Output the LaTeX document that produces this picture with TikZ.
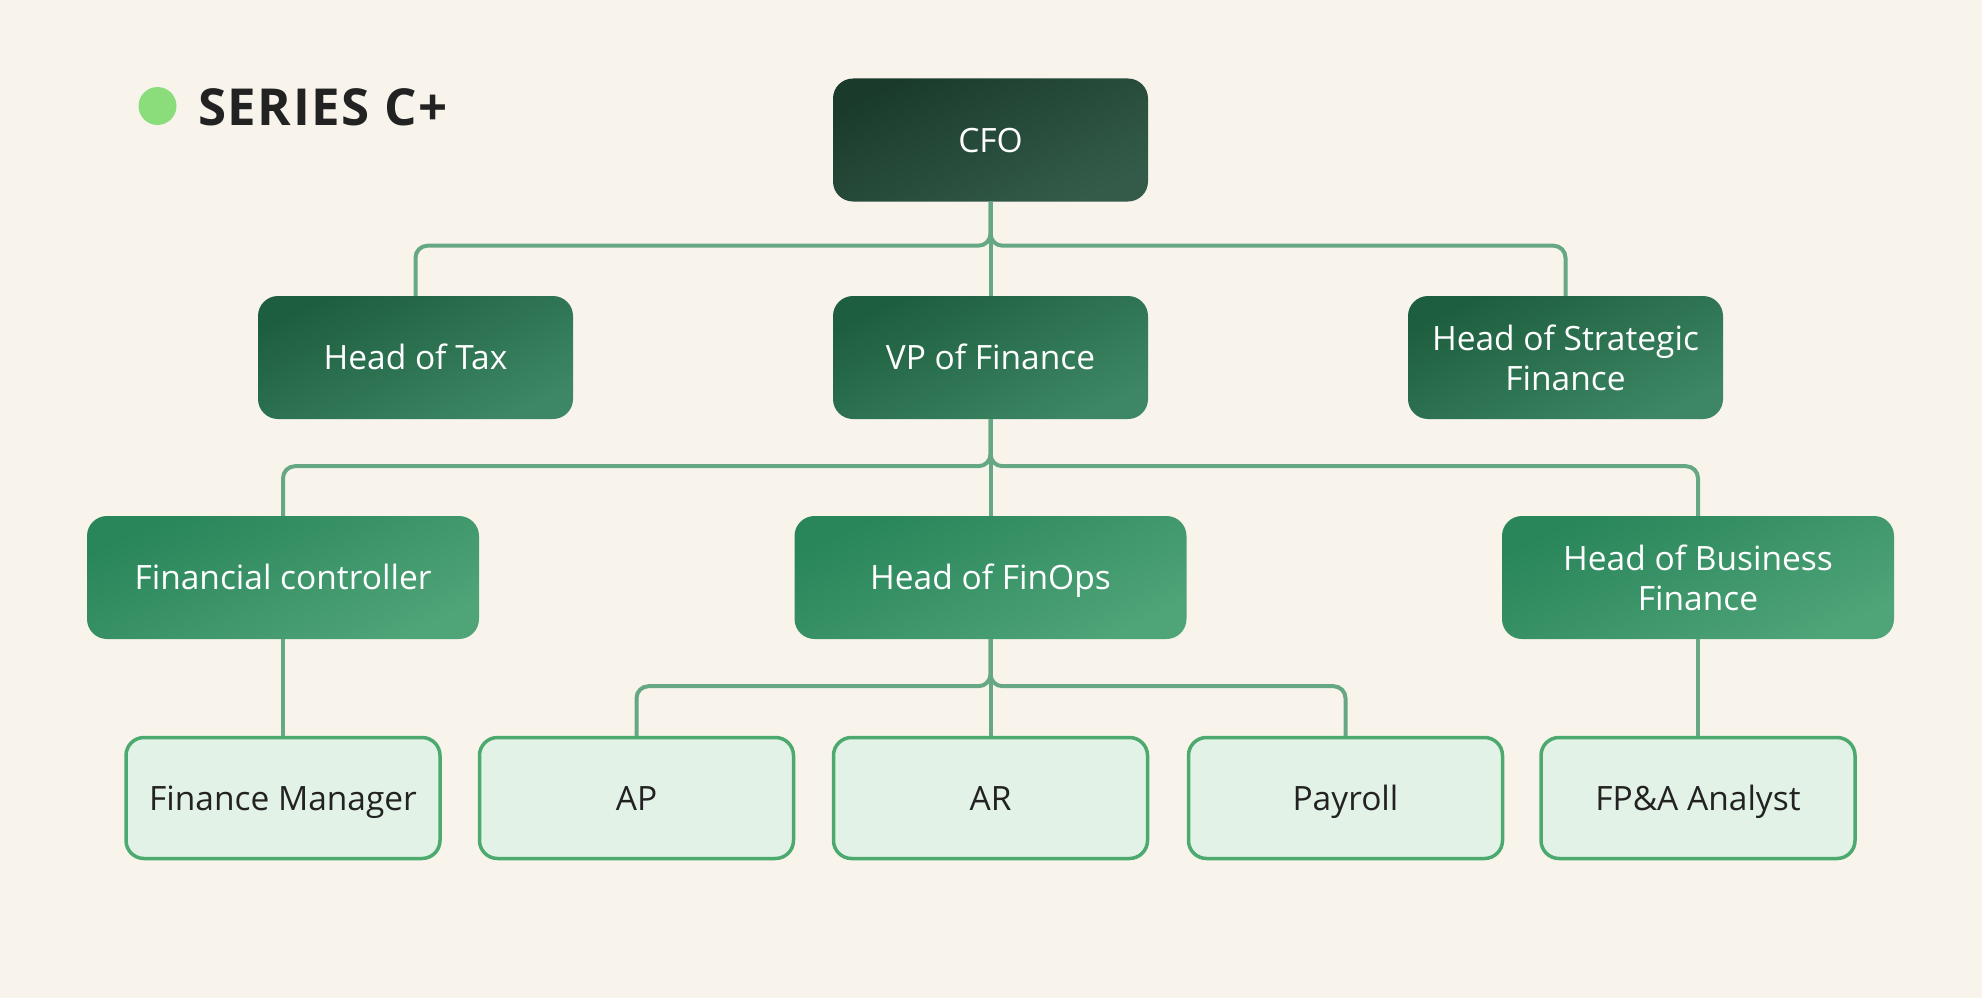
\documentclass[tikz,border=0pt]{standalone}
\usepackage{fontspec}
\setmainfont{Open Sans}
\newfontfamily\titlefont[LetterSpace=3]{Open Sans}
\usetikzlibrary{positioning,calc}
\definecolor{paper}{HTML}{F8F4EC}
\definecolor{cfoA}{HTML}{1A3B2B}
\definecolor{cfoB}{HTML}{345B49}
\definecolor{twoA}{HTML}{1D5E3E}
\definecolor{twoB}{HTML}{3D8764}
\definecolor{thrA}{HTML}{29855A}
\definecolor{thrB}{HTML}{4FA478}
\definecolor{leafbg}{HTML}{E3F2E6}
\definecolor{leafln}{HTML}{4DAA6F}
\definecolor{link}{HTML}{66A883}
\definecolor{dot}{HTML}{8BDD7C}
\definecolor{ink}{HTML}{222222}
\tikzstyle{box} = [rectangle, rounded corners=20pt, align=center, inner sep=0pt, minimum height=123pt, font=\fontsize{33.5}{40}\selectfont]
\tikzstyle{one} = [text height=24pt, text depth=0pt]
\tikzstyle{e} = [draw=link, line width=4pt, rounded corners=12pt]

\begin{document}
\begin{tikzpicture}[x=1pt,y=-1pt]
\tikzstyle{chief} = [box, text=white, minimum width=315pt, top color=cfoA, bottom color=cfoB, shading angle=25]
\tikzstyle{head} = [box, text=white, minimum width=315pt, top color=twoA, bottom color=twoB, shading angle=25]
\tikzstyle{lead} = [box, text=white, minimum width=392pt, top color=thrA, bottom color=thrB, shading angle=25]
\tikzstyle{leaf} = [box, one, text=ink, minimum width=314pt, minimum height=121pt, rounded corners=18pt, fill=leafbg, draw=leafln, line width=3.5pt]
\fill[paper] (0,0) rectangle (1982,998);
\useasboundingbox (0,0) rectangle (1982,998);

\fill[dot] (157.5,106) circle (19);
\node[anchor=base west, inner sep=0pt, text=ink, font=\fontsize{51}{60}\selectfont\titlefont\bfseries] (title) at (198,125) {SERIES C+};

\node[chief, one] (cfo) at (990.5,140) {CFO};

\node[head, one] (tax) at (415.5,357.5) {Head of Tax};
\node[head, one] (vp) at (990.5,357.5) {VP of Finance};
\node[head] (strat) at (1565.5,357.5) {Head of Strategic\\Finance};

\node[lead, one] (ctrl) at (283,577.5) {Financial controller};
\node[lead, one] (finops) at (990.5,577.5) {Head of FinOps};
\node[lead] (bizfin) at (1698,577.5) {Head of Business\\Finance};

\node[leaf] (mgr) at (283,798) {Finance Manager};
\node[leaf] (ap) at (636.5,798) {AP};
\node[leaf] (ar) at (990.5,798) {AR};
\node[leaf] (payroll) at (1345.5,798) {Payroll};
\node[leaf] (fpa) at (1698,798) {FP\&A Analyst};

\draw[e] (cfo.south) -- ++(0,44) -| (tax.north);
\draw[e] (cfo.south) -- ++(0,44) -| (strat.north);
\draw[e] (cfo.south) -- (vp.north);

\draw[e] (vp.south) -- ++(0,47) -| (ctrl.north);
\draw[e] (vp.south) -- ++(0,47) -| (bizfin.north);
\draw[e] (vp.south) -- (finops.north);

\draw[e] (finops.south) -- ++(0,47) -| (ap.north);
\draw[e] (finops.south) -- ++(0,47) -| (payroll.north);
\draw[e] (finops.south) -- (ar.north);

\draw[e] (ctrl.south) -- (mgr.north);
\draw[e] (bizfin.south) -- (fpa.north);
\end{tikzpicture}
\end{document}
